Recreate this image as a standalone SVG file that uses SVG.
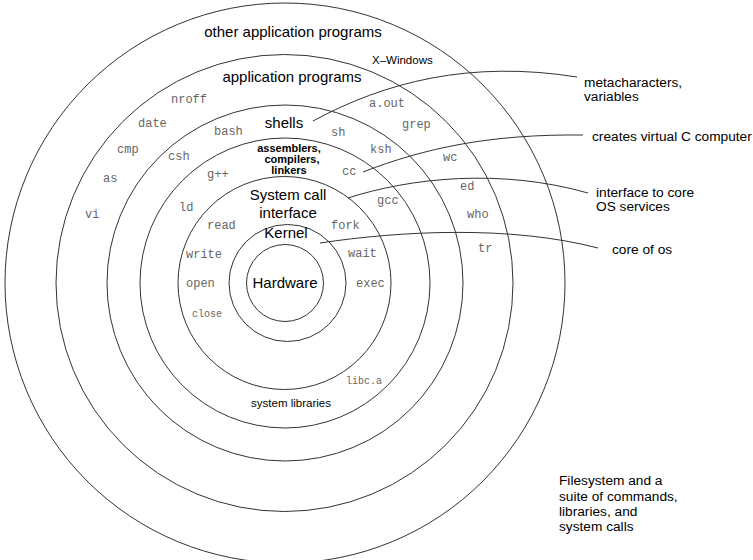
<svg xmlns="http://www.w3.org/2000/svg" width="753" height="560" viewBox="0 0 753 560">
<style>
  .ring { fill: none; stroke: #333; stroke-width: 1; }
  .conn { fill: none; stroke: #333; stroke-width: 1; }
  .lbl { font-family: "Liberation Sans", Arial, sans-serif; font-size: 15px; fill: #000; text-anchor: middle; }
  .small { font-family: "Liberation Sans", Arial, sans-serif; font-size: 11.5px; fill: #000; }
  .bold { font-family: "Liberation Sans", Arial, sans-serif; font-size: 11px; font-weight: bold; fill: #000; text-anchor: middle; }
  .note { font-family: "Liberation Sans", Arial, sans-serif; font-size: 13.7px; fill: #000; }
  .cmd { font-family: "Liberation Mono", "Courier New", monospace; font-size: 12px; fill: #666; }
  .cmds { font-family: "Liberation Mono", "Courier New", monospace; font-size: 10px; fill: #666; }
</style>
<rect width="753" height="560" fill="#fff"/>

<g id="other-application-programs">
  <circle class="ring" cx="285" cy="283" r="280"/>
  <text class="lbl" x="293" y="37">other application programs</text>
  <text class="small" x="372" y="64">X–Windows</text>
  <text class="cmd" x="171" y="103">nroff</text>
  <text class="cmd" x="138" y="127">date</text>
  <text class="cmd" x="117" y="153">cmp</text>
  <text class="cmd" x="103" y="182">as</text>
  <text class="cmd" x="85" y="218">vi</text>
  <text class="cmd" x="369" y="107">a.out</text>
  <text class="cmd" x="402" y="128">grep</text>
  <text class="cmd" x="443" y="161">wc</text>
  <text class="cmd" x="460" y="190">ed</text>
  <text class="cmd" x="467" y="218">who</text>
  <text class="cmd" x="478" y="252">tr</text>
</g>

<g id="application-programs">
  <circle class="ring" cx="284.5" cy="283" r="228.5"/>
  <text class="lbl" x="292" y="82">application programs</text>
  <text class="cmd" x="214" y="135">bash</text>
  <text class="cmd" x="168" y="160">csh</text>
  <text class="cmd" x="331" y="136">sh</text>
  <text class="cmd" x="370" y="153">ksh</text>
</g>

<g id="shells">
  <circle class="ring" cx="285" cy="283" r="178"/>
  <text class="lbl" x="284" y="128">shells</text>
  <text class="cmd" x="207" y="178">g++</text>
  <text class="cmd" x="342" y="175">cc</text>
  <text class="cmd" x="377" y="204">gcc</text>
  <text class="cmd" x="179" y="211">ld</text>
  <text class="cmds" x="346" y="384">libc.a</text>
</g>

<g id="assemblers">
  <circle class="ring" cx="285" cy="283" r="145"/>
  <text class="bold" x="289" y="152">assemblers,</text>
  <text class="bold" x="292" y="163">compilers,</text>
  <text class="bold" x="289" y="174">linkers</text>
  <text class="small" x="291" y="407" text-anchor="middle">system libraries</text>
</g>

<g id="system-call-interface">
  <circle class="ring" cx="284.5" cy="283" r="106.5"/>
  <text class="lbl" x="288" y="200">System call</text>
  <text class="lbl" x="288" y="218">interface</text>
  <text class="cmd" x="207" y="229">read</text>
  <text class="cmd" x="186" y="258">write</text>
  <text class="cmd" x="186" y="287">open</text>
  <text class="cmds" x="192" y="317">close</text>
  <text class="cmd" x="331" y="229">fork</text>
  <text class="cmd" x="348" y="257">wait</text>
  <text class="cmd" x="356" y="287">exec</text>
</g>

<g id="kernel">
  <circle class="ring" cx="287.5" cy="283" r="58.5"/>
  <text class="lbl" x="286" y="238">Kernel</text>
</g>

<g id="hardware">
  <circle class="ring" cx="285" cy="283" r="38.5"/>
  <text class="lbl" x="285" y="288">Hardware</text>
</g>

<g id="connectors">
  <path class="conn" d="M313,121 C385,82 470,60 577,77"/>
  <path class="conn" d="M363,172 C425,148 490,134 583,135"/>
  <path class="conn" d="M348,198 C410,178 500,168 588,193"/>
  <path class="conn" d="M320,243 C400,231 510,225 598,248"/>
</g>

<g id="notes">
  <text class="note" x="584" y="87">metacharacters,</text>
  <text class="note" x="584" y="101">variables</text>
  <text class="note" x="592" y="141">creates virtual C computer</text>
  <text class="note" x="596" y="197">interface to core</text>
  <text class="note" x="596" y="211">OS services</text>
  <text class="note" x="612" y="254">core of os</text>
  <text class="note" x="559" y="485">Filesystem and a</text>
  <text class="note" x="559" y="501">suite of commands,</text>
  <text class="note" x="559" y="516">libraries, and</text>
  <text class="note" x="559" y="531">system calls</text>
</g>
</svg>
